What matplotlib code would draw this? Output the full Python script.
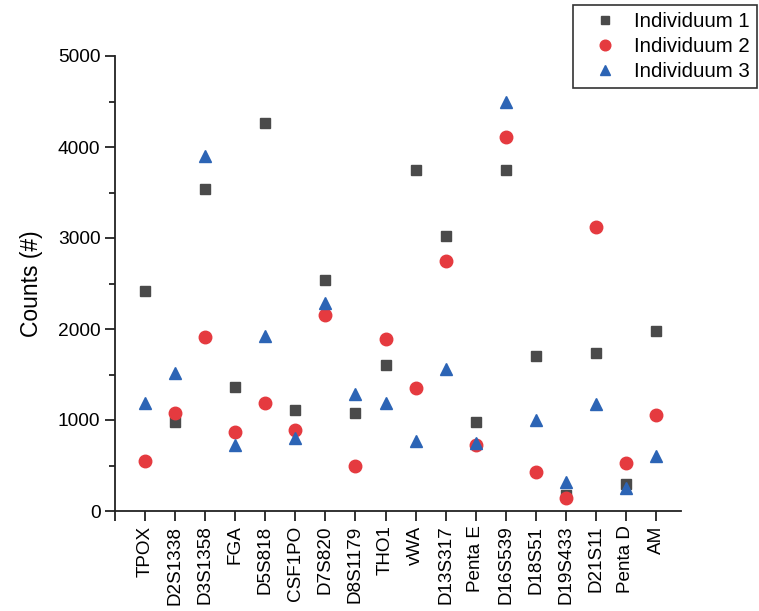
import matplotlib
matplotlib.use("Agg")
import matplotlib.pyplot as plt
import numpy as np

plt.rcParams['font.family'] = ['Liberation Sans', 'DejaVu Sans']

categories = ["TPOX", "D2S1338", "D3S1358", "FGA", "D5S818", "CSF1PO", "D7S820",
              "D8S1179", "THO1", "vWA", "D13S317", "Penta E", "D16S539", "D18S51",
              "D19S433", "D21S11", "Penta D", "AM"]
ind1 = [2420, 975, 3540, 1365, 4260, 1110, 2540, 1080, 1600, 3750, 3020, 978, 3750,
        1703, 176, 1733, 293, 1982]
ind2 = [553, 1080, 1916, 868, 1190, 887, 2150, 498, 1886, 1355, 2750, 725, 4115,
        432, 146, 3123, 531, 1055]
ind3 = [1190, 1513, 3905, 729, 1927, 806, 2289, 1286, 1183, 769, 1557, 744, 4495,
        1000, 322, 1172, 256, 608]
series_labels = ["Individuum 1", "Individuum 2", "Individuum 3"]
y_ticks = [0, 1000, 2000, 3000, 4000, 5000]

fig = plt.figure(figsize=(7.59, 6.11), dpi=100)
ax = fig.add_axes([115/759, 1-511/611, (681-115)/759, (511-56)/611])

x = np.arange(1, len(categories) + 1)
ax.plot(x, ind1, linestyle='none', marker='s', ms=7.5, color='#4a4a4a', label=series_labels[0], clip_on=False, zorder=3)
ax.plot(x, ind2, linestyle='none', marker='o', ms=9, color='#e53a3f', label=series_labels[1], clip_on=False, zorder=3)
ax.plot(x, ind3, linestyle='none', marker='^', ms=9, color='#2c64b5', label=series_labels[2], clip_on=False, zorder=3)

ax.set_xlim(0, 18.83)
ax.set_ylim(0, 5000)
ax.set_xticks(x)
ax.set_xticklabels(categories, rotation=90, fontsize=13.6)
ax.set_xticks([0], minor=True)
ax.set_yticks(y_ticks)
ax.set_yticks([500, 1500, 2500, 3500, 4500], minor=True)
ax.tick_params(axis='y', labelsize=13.8)
ax.tick_params(which='major', direction='out', length=7, width=1.3, color='#222222')
ax.tick_params(which='minor', direction='out', length=4, width=1.3, color='#222222')
ax.tick_params(axis='x', which='minor', length=7)
for side in ['top', 'right']:
    ax.spines[side].set_visible(False)
for side in ['left', 'bottom']:
    ax.spines[side].set_linewidth(1.3)
    ax.spines[side].set_color('#222222')

ax.set_ylabel("Counts (#)", fontsize=16.5, labelpad=11)

leg = fig.legend(loc='upper right', bbox_to_anchor=(757/759, 1-5/611), borderaxespad=0,
                 fancybox=False, edgecolor='#333333', framealpha=1, fontsize=14.7,
                 labelspacing=0.29, handletextpad=0.2, borderpad=0.35, handlelength=2.45,
                 markerscale=0.85)
leg.get_frame().set_linewidth(1.2)

fig.savefig("out.png", dpi=100)
